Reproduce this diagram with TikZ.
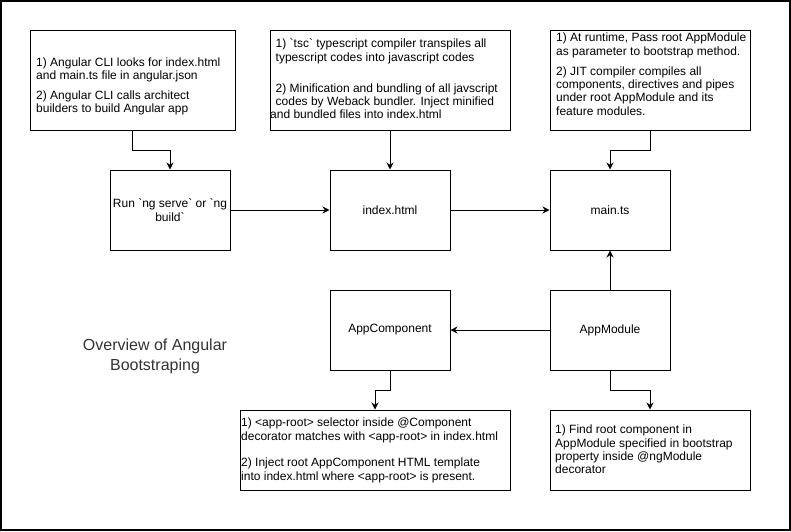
\documentclass[tikz,border=0pt]{standalone}
\usepackage{fontspec}
\setmainfont{Liberation Sans}[Ligatures=TeXOff]
\usetikzlibrary{arrows.meta}
\begin{document}
\begin{tikzpicture}[x=1pt,y=-1pt]
\tikzset{
  boxnode/.style={draw=black, line width=1pt, inner sep=0pt, align=center,
    font=\fontsize{12}{13.4}\selectfont},
  para/.style={inner sep=0pt, anchor=north west, align=left,
    font=\fontsize{12}{13.4}\selectfont},
  conn/.style={line width=1pt, -{Stealth[length=7pt,width=7pt]}},
}
\useasboundingbox (0,0) rectangle (791,531);
\draw[line width=2pt] (1,1) rectangle (790,530);

% top note boxes
\node[boxnode, minimum width=205pt, minimum height=100pt] (b1) at (132.5,80) {};
\node[para] (t1) at (36,57.2) {1) Angular CLI looks for index.html\\
and main.ts file in angular.json\\[6.6pt]
2) Angular CLI calls architect\\
builders to build Angular app};

\node[boxnode, minimum width=240pt, minimum height=100pt] (b2) at (390,80) {};
\node[para] (t2) at (270,38.8) {\hspace*{5.5pt}1) `tsc` typescript compiler transpiles all\\
\hspace*{5.5pt}typescript codes into javascript codes\\[17.5pt]
\hspace*{5.5pt}2) Minification and bundling of all javscript\\
\hspace*{5.5pt}codes by Weback bundler. Inject minified\\
and bundled files into index.html};

\node[boxnode, minimum width=200pt, minimum height=100pt] (b3) at (650,80) {};
\node[para] (t3) at (556,32.8) {1) At runtime, Pass root AppModule\\
as parameter to bootstrap method.\\[6.6pt]
2) JIT compiler compiles all\\
components, directives and pipes\\
under root AppModule and its\\
feature modules.};

% middle row
\node[boxnode, minimum width=120pt, minimum height=80pt] (run) at (170,210) {Run `ng serve` or `ng\\build`};
\node[boxnode, minimum width=120pt, minimum height=80pt] (idx) at (390,210) {index.html};
\node[boxnode, minimum width=120pt, minimum height=80pt] (main) at (610,210) {main.ts};

\node[boxnode, minimum width=120pt, minimum height=80pt] (appc) at (390,330) {AppComponent};
\node[boxnode, minimum width=120pt, minimum height=80pt] (appm) at (610,330) {AppModule};

% title
\node[align=center, inner sep=0pt, text=black!80, font=\fontsize{16}{20}\selectfont] (title) at (155,356) {Overview of Angular\\Bootstraping};

% bottom note boxes
\node[boxnode, minimum width=270pt, minimum height=80pt] (b4) at (375,450) {};
\node[para] (t4) at (241,417.8) {1) <app-root> selector inside @Component\\
decorator matches with <app-root> in index.html\\[13.3pt]
2) Inject root AppComponent HTML template\\
into index.html where <app-root> is present.};

\node[boxnode, minimum width=200pt, minimum height=80pt] (b5) at (650,450) {};
\node[para] (t5) at (555,424.8) {1) Find root component in\\
AppModule specified in bootstrap\\
property inside @ngModule\\
decorator};

% connectors
\draw[conn] (b1.south) -- ++(0,20) -| (run.north);
\draw[conn] (b2.south) -- (idx.north);
\draw[conn] (b3.south) -- ++(0,20) -| (main.north);
\draw[conn] (run.east) -- (idx.west);
\draw[conn] (idx.east) -- (main.west);
\draw[conn] (appm.north) -- (main.south);
\draw[conn] (appm.west) -- (appc.east);
\draw[conn] (appc.south) -- ++(0,20) -| (b4.north);
\draw[conn] (appm.south) -- ++(0,20) -| (b5.north);
\end{tikzpicture}
\end{document}
